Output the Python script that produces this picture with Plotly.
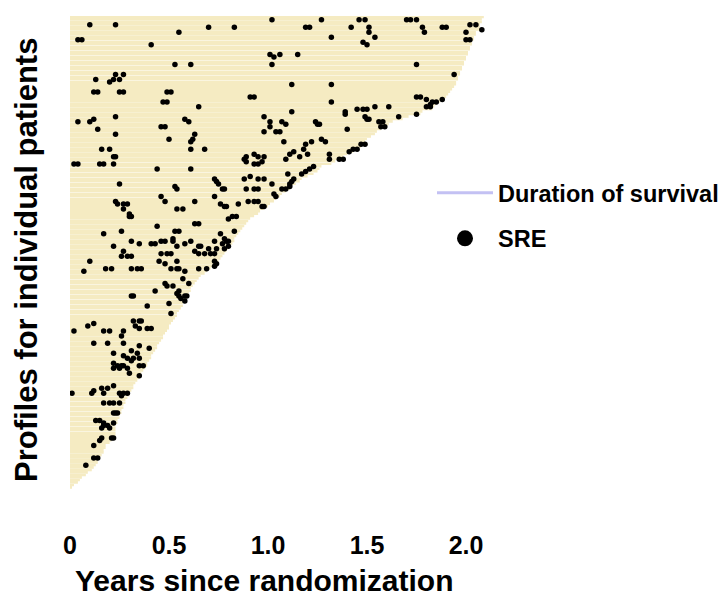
import plotly.graph_objects as go

# Survival duration (years) per patient, ranked from longest (1, top) to shortest (190, bottom)
survival_years = [
    2.09, 2.08, 2.08, 2.07, 2.07, 2.09, 2.05, 2.05, 2.04, 2.04,
    2.03, 2.03, 2.02, 2.02, 2.01, 2.01, 2.00, 2.00, 1.99, 1.99,
    1.98, 1.98, 1.97, 1.97, 1.96, 1.96, 1.95, 1.95, 1.94, 1.93,
    1.92, 1.91, 1.90, 1.89, 1.87, 1.85, 1.84, 1.83, 1.78, 1.77,
    1.71, 1.68, 1.63, 1.61, 1.60, 1.57, 1.55, 1.54, 1.52, 1.50,
    1.49, 1.50, 1.47, 1.46, 1.43, 1.40, 1.38, 1.39, 1.34, 1.32,
    1.27, 1.26, 1.25, 1.23, 1.20, 1.17, 1.16, 1.14, 1.12, 1.11,
    1.09, 1.07, 1.06, 1.04, 1.03, 1.01, 1.00, 0.98, 0.96, 0.95,
    0.93, 0.91, 0.90, 0.89, 0.88, 0.87, 0.86, 0.85, 0.84, 0.83,
    0.83, 0.82, 0.81, 0.80, 0.79, 0.78, 0.77, 0.76, 0.75, 0.75,
    0.74, 0.71, 0.69, 0.68, 0.66, 0.65, 0.64, 0.63, 0.62, 0.61,
    0.61, 0.60, 0.60, 0.59, 0.59, 0.57, 0.57, 0.56, 0.55, 0.54,
    0.54, 0.53, 0.52, 0.51, 0.50, 0.50, 0.49, 0.48, 0.47, 0.47,
    0.46, 0.45, 0.44, 0.44, 0.43, 0.42, 0.41, 0.41, 0.40, 0.39,
    0.39, 0.38, 0.37, 0.36, 0.36, 0.35, 0.34, 0.33, 0.32, 0.32,
    0.31, 0.30, 0.30, 0.29, 0.28, 0.28, 0.27, 0.27, 0.26, 0.26,
    0.25, 0.25, 0.24, 0.24, 0.23, 0.23, 0.23, 0.23, 0.23, 0.23,
    0.21, 0.20, 0.18, 0.18, 0.17, 0.17, 0.16, 0.15, 0.14, 0.14,
    0.13, 0.12, 0.11, 0.09, 0.08, 0.06, 0.05, 0.04, 0.02, 0.01,
]
patient_rank = list(range(1, len(survival_years) + 1))

# SRE event times (years) keyed by patient rank
sre_events = {
    2: [1.02, 1.27, 1.46, 1.49, 1.70, 1.72, 1.75],
    4: [0.10, 0.23, 2.02, 2.05],
    5: [0.70, 0.83, 1.19, 1.21, 1.42, 1.51, 1.78, 1.88, 1.90],
    6: [2.08],
    7: [0.55, 1.51, 1.79, 2.00],
    9: [1.32, 1.54],
    10: [0.04, 0.06, 2.00, 2.02],
    11: [1.48],
    12: [0.41, 1.50],
    16: [1.01, 1.06, 1.15],
    17: [1.03],
    20: [0.53, 0.61, 1.02, 1.75],
    24: [0.23, 0.27, 1.94],
    26: [0.13, 0.22, 0.25],
    27: [0.20],
    28: [1.12, 1.32],
    31: [0.12, 0.14, 0.25, 0.27, 0.49, 0.51],
    33: [0.91, 0.93, 1.75, 1.77],
    34: [1.80, 1.88],
    35: [0.47, 0.49, 1.32, 1.83, 1.85],
    36: [1.82],
    37: [0.65, 1.54, 1.61, 1.80, 1.82],
    38: [1.45, 1.48, 1.50],
    39: [1.12, 1.39],
    40: [1.39, 1.75],
    41: [0.23, 0.98, 1.49, 1.66],
    42: [0.12, 0.58, 1.50, 1.51],
    43: [0.04, 0.10, 0.60, 1.01, 1.07, 1.24, 1.56, 1.58],
    44: [1.09, 1.25, 1.26],
    45: [0.46, 0.48, 1.01, 1.57, 1.59],
    46: [0.14, 1.40],
    47: [0.98, 1.04, 1.06],
    48: [0.23, 0.63],
    50: [0.50, 0.62, 1.27],
    51: [0.61, 1.08, 1.22, 1.29],
    52: [1.19, 1.47, 1.49],
    54: [0.16, 0.20, 0.61, 0.68, 1.18, 1.43, 1.45],
    55: [1.13, 1.41],
    56: [0.93, 1.11, 1.20, 1.31],
    57: [0.22, 0.23, 0.89, 0.95, 0.98, 1.16],
    58: [0.88, 1.09, 1.31, 1.36, 1.38],
    59: [0.89, 0.97],
    60: [0.02, 0.04, 0.15, 0.17, 0.22, 0.93, 0.95],
    61: [1.23],
    62: [0.44, 0.61, 1.21],
    63: [1.19],
    64: [1.10, 1.17],
    65: [0.91],
    66: [0.73, 0.88, 0.95, 0.98, 1.13],
    67: [0.74, 1.12],
    68: [0.25, 0.75, 1.02, 1.11],
    69: [0.53, 1.11],
    70: [0.54, 0.77, 0.78, 0.89, 0.93, 0.95, 1.07, 1.09],
    72: [1.03],
    73: [0.46, 0.73, 1.04],
    75: [0.23, 0.48, 0.63, 0.90, 0.93, 0.95],
    76: [0.24, 0.27, 0.29, 0.76, 0.85],
    77: [0.78, 0.79, 0.97, 0.98],
    78: [0.27, 0.54, 0.57],
    80: [0.30],
    81: [0.30, 0.31, 0.82, 0.84],
    82: [0.80],
    84: [0.63, 0.65],
    85: [0.44],
    87: [0.26, 0.53, 0.55, 0.83],
    88: [0.17, 0.76],
    90: [0.52, 0.78],
    91: [0.31, 0.46, 0.48, 0.52, 0.61, 0.73, 0.79, 0.80],
    92: [0.35, 0.41, 0.43, 0.58, 0.77],
    93: [0.22, 0.54, 0.65, 0.66, 0.80],
    94: [0.70, 0.74, 0.78],
    95: [0.27, 0.63],
    96: [0.46, 0.49, 0.51, 0.65, 0.68, 0.71, 0.73],
    97: [0.26, 0.29, 0.31],
    99: [0.10, 0.45, 0.54, 0.73],
    100: [0.48, 0.74],
    101: [0.73],
    102: [0.18, 0.21, 0.31, 0.34, 0.36, 0.51, 0.54, 0.55, 0.65, 0.69],
    103: [0.07, 0.58],
    106: [0.57],
    108: [0.48, 0.60],
    109: [0.49, 0.52],
    111: [0.43, 0.55],
    112: [0.54],
    113: [0.31, 0.32, 0.55, 0.58, 0.59],
    114: [0.56],
    115: [0.58],
    116: [0.50],
    117: [0.39],
    120: [0.51],
    123: [0.32, 0.35, 0.36],
    124: [0.12],
    125: [0.09, 0.33],
    126: [0.35, 0.39, 0.41],
    127: [0.02, 0.17, 0.20, 0.27],
    129: [0.26],
    132: [0.12, 0.19, 0.27],
    133: [0.35],
    134: [0.40],
    135: [0.31],
    136: [0.22, 0.34],
    137: [0.27],
    138: [0.29, 0.32, 0.35],
    139: [0.31],
    140: [0.22],
    141: [0.24, 0.26, 0.27, 0.35, 0.37],
    142: [0.22, 0.25, 0.29],
    144: [0.30],
    145: [0.35],
    149: [0.22],
    150: [0.16, 0.19],
    151: [0.12],
    152: [0.01, 0.11, 0.17, 0.25, 0.27, 0.29],
    153: [0.26],
    156: [0.17, 0.20, 0.22, 0.25],
    160: [0.22, 0.23, 0.24],
    163: [0.13, 0.15],
    164: [0.17, 0.22],
    165: [0.17, 0.19],
    166: [0.16, 0.20],
    170: [0.16, 0.21, 0.22],
    171: [0.15],
    173: [0.12],
    178: [0.12, 0.14],
    181: [0.08],
}

x_tick_values = [0, 0.5, 1.0, 1.5, 2.0]
x_tick_labels = ["0", "0.5", "1.0", "1.5", "2.0"]

sre_patient = []
sre_years = []
for p, times in sre_events.items():
    for t in times:
        sre_patient.append(p)
        sre_years.append(t)

FONT = "Liberation Sans, Arial, Helvetica, sans-serif"

W, H = 728, 596
ML, MR, MT, MB = 70, 10, 16, 107
PW = W - ML - MR
PH = H - MT - MB
PX_PER_YEAR = 198.0

fig = go.Figure()
fig.add_trace(go.Bar(
    x=survival_years, y=patient_rank, orientation="h",
    marker=dict(color="#F5EBC2", line=dict(width=0)),
    name="Duration of survival", showlegend=False, hoverinfo="skip",
))
fig.add_trace(go.Scatter(
    x=[None], y=[None], mode="lines",
    line=dict(color="#C3C1F3", width=3),
    name="Duration of survival", legendgroup="dur",
))
fig.add_trace(go.Scatter(
    x=sre_years, y=sre_patient, mode="markers",
    marker=dict(color="black", size=5.5),
    name="SRE", showlegend=False,
))
fig.add_trace(go.Scatter(
    x=[None], y=[None], mode="markers",
    marker=dict(color="black", size=16),
    name="SRE", legendgroup="sre",
))

def px_x(px):
    return (px - ML) / PW

def px_y(py):
    return (H - MB - py) / PH

fig.update_layout(
    width=W, height=H,
    margin=dict(l=ML, r=MR, t=MT, b=MB, pad=0, autoexpand=False),
    paper_bgcolor="white", plot_bgcolor="white",
    bargap=0.22,
    font=dict(family=FONT, color="black"),
    xaxis=dict(
        range=[0, PW / PX_PER_YEAR],
        tickvals=x_tick_values, ticktext=x_tick_labels,
        showgrid=False, zeroline=False, showline=False,
        ticks="outside", ticklen=34, tickcolor="rgba(0,0,0,0)",
        tickfont=dict(size=25, family=FONT, weight="bold", color="black"),
        automargin=False,
    ),
    yaxis=dict(
        range=[len(survival_years) + 0.5, 0.5],
        showticklabels=False, showgrid=False, zeroline=False, showline=False,
        ticks="", automargin=False,
    ),
    legend=dict(
        x=px_x(432), y=px_y(171), xanchor="left", yanchor="top",
        bgcolor="rgba(0,0,0,0)",
        font=dict(size=23.5, family=FONT, weight="bold", color="black"),
        itemwidth=56, tracegroupgap=12,
    ),
    annotations=[
        dict(text="Years since randomization", xref="paper", yref="paper",
             x=px_x(264), y=px_y(580), xanchor="center", yanchor="middle",
             showarrow=False,
             font=dict(size=30, family=FONT, weight="bold", color="black")),
        dict(text="Profiles for individual patients", xref="paper", yref="paper",
             x=px_x(26), y=px_y(260), xanchor="center", yanchor="middle",
             textangle=-90, showarrow=False,
             font=dict(size=31, family=FONT, weight="bold", color="black")),
    ],
)

fig.write_html("out.html")
